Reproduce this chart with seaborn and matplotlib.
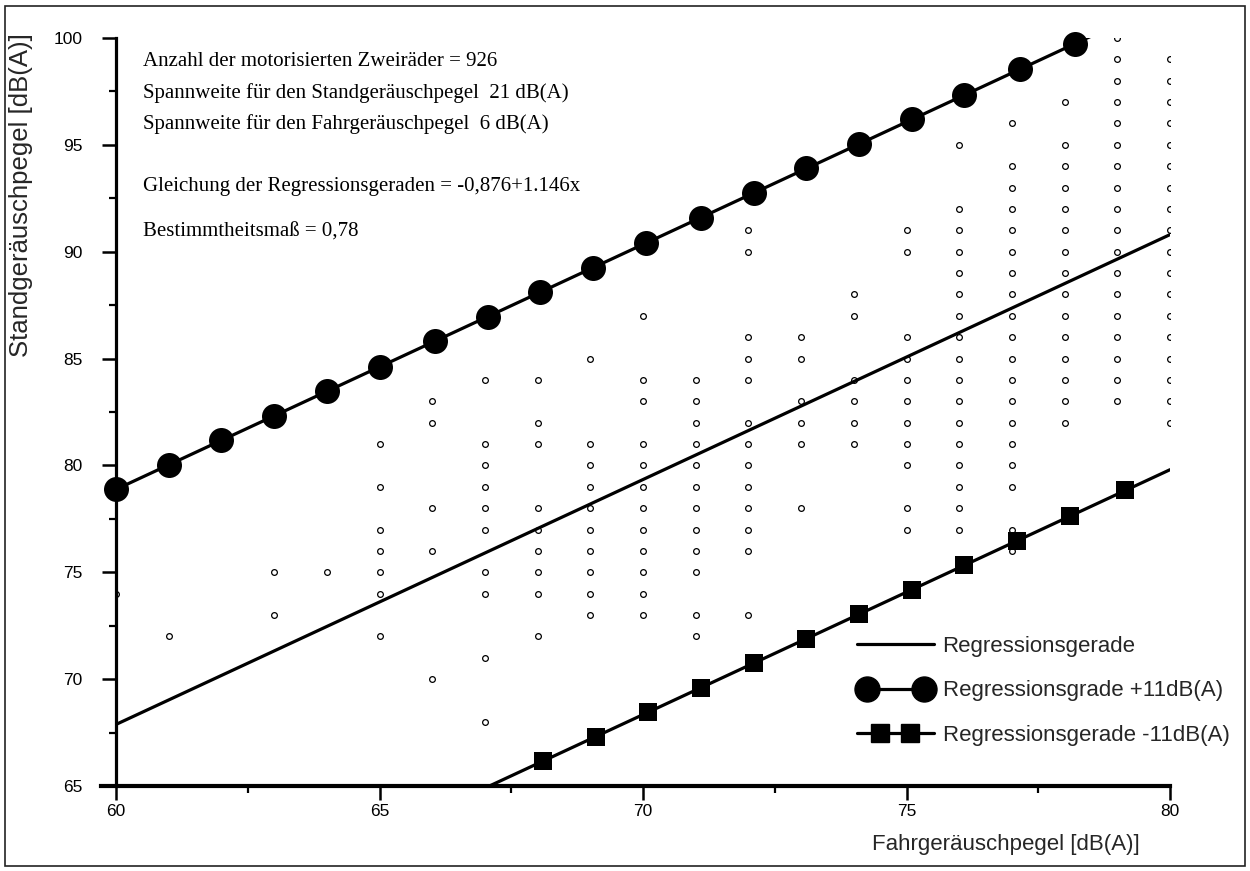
import numpy as np
import pandas as pd
import matplotlib
matplotlib.use("Agg")
import matplotlib.pyplot as plt
import seaborn as sns
from matplotlib.lines import Line2D
from matplotlib.legend_handler import HandlerLine2D
from matplotlib.patches import Rectangle
from matplotlib.ticker import MultipleLocator

# ---------------- data ----------------
scatter_x_cols = [60, 61, 63, 64, 65, 66, 67, 68, 69, 70,
                  71, 72, 73, 74, 75, 76, 77, 78, 79, 80]
scatter_y_cols = [
    [74],
    [72],
    [75, 73],
    [75],
    [81, 79, 77, 76, 75, 74, 72],
    [83, 82, 78, 76, 70],
    [84, 81, 80, 79, 78, 77, 75, 74, 71, 68],
    [84, 82, 81, 78, 77, 76, 75, 74, 72],
    [85, 81, 80, 79, 78, 77, 76, 75, 74, 73],
    [87, 84, 83, 81, 80, 79, 78, 77, 76, 75, 74, 73],
    [84, 83, 82, 81, 80, 79, 78, 77, 76, 75, 73, 72],
    [91, 90, 86, 85, 84, 82, 81, 80, 79, 78, 77, 76, 73],
    [86, 85, 83, 82, 81, 78],
    [88, 87, 84, 83, 82, 81],
    [91, 90, 86, 85, 84, 83, 82, 81, 80, 78, 77],
    [95, 92, 91, 90, 89, 88, 87, 86, 85, 84, 83, 82, 81, 80, 79, 78, 77],
    [96, 94, 93, 92, 91, 90, 89, 88, 87, 86, 85, 84, 83, 82, 81, 80, 79, 77, 76],
    [97, 95, 94, 93, 92, 91, 90, 89, 88, 87, 86, 85, 84, 83, 82],
    [100, 99, 98, 97, 96, 95, 94, 93, 92, 91, 90, 89, 88, 87, 86, 85, 84, 83],
    [99, 98, 97, 96, 95, 94, 93, 92, 91, 90, 89, 88, 87, 86, 85, 84, 83, 82],
]

reg_x = [60, 80]
reg_y = [67.88, 90.80]
upper_x = [60, 80]
upper_y = [78.88, 101.80]
lower_x = [60, 80]
lower_y = [56.88, 79.80]

circle_x = [60, 61, 62, 63, 64, 65, 66.05, 67.05, 68.05, 69.05, 70.05,
            71.1, 72.1, 73.1, 74.1, 75.1, 76.1, 77.15, 78.2]
circle_y = [78.88, 80.03, 81.18, 82.32, 83.47, 84.61, 85.82, 86.96, 88.11,
            89.26, 90.40, 91.60, 92.75, 93.90, 95.04, 96.19, 97.34, 98.54, 99.74]
square_x = [68.1, 69.1, 70.1, 71.1, 72.1, 73.1, 74.1, 75.1, 76.1, 77.1, 78.1, 79.15]
square_y = [66.17, 67.31, 68.46, 69.60, 70.75, 71.90, 73.04, 74.19, 75.34,
            76.48, 77.63, 78.83]

x_ticks = [60, 65, 70, 75, 80]
y_ticks = [65, 70, 75, 80, 85, 90, 95, 100]

info_lines = [
    "Anzahl der motorisierten Zweiräder = 926",
    "Spannweite für den Standgeräuschpegel  21 dB(A)",
    "Spannweite für den Fahrgeräuschpegel  6 dB(A)",
    "Gleichung der Regressionsgeraden = -0,876+1.146x",
    "Bestimmtheitsmaß = 0,78",
]
legend_labels = ["Regressionsgerade", "Regressionsgrade +11dB(A)",
                 "Regressionsgerade -11dB(A)"]
x_label = "Fahrgeräuschpegel [dB(A)]"
y_label = "Standgeräuschpegel [dB(A)]"

# ---------------- figure ----------------
sns.set_style("ticks")
plt.rcParams["font.family"] = ["Liberation Sans", "DejaVu Sans"]

W, H = 1250, 871
fig = plt.figure(figsize=(W / 100, H / 100), dpi=100)
ax = fig.add_axes([116 / W, 1 - 786 / H, (1170 - 116) / W, (786 - 38) / H])

rows = [(x, y) for x, ys in zip(scatter_x_cols, scatter_y_cols) for y in ys]
df = pd.DataFrame(rows, columns=["x", "y"])

sns.scatterplot(data=df, x="x", y="y", ax=ax, marker="o", s=17,
                facecolor="white", edgecolor="black", linewidth=0.9, zorder=2)

LW = 2.3
sns.lineplot(x=reg_x, y=reg_y, ax=ax, color="black", lw=LW,
             estimator=None, sort=False, zorder=3)
sns.lineplot(x=upper_x, y=upper_y, ax=ax, color="black", lw=LW,
             estimator=None, sort=False, zorder=3)
sns.lineplot(x=lower_x, y=lower_y, ax=ax, color="black", lw=LW,
             estimator=None, sort=False, zorder=3)
sns.scatterplot(x=circle_x, y=circle_y, ax=ax, marker="o", s=18 ** 2,
                color="black", edgecolor="black", linewidth=0, zorder=4,
                clip_on=False)
sns.scatterplot(x=square_x, y=square_y, ax=ax, marker="s", s=12.5 ** 2,
                color="black", edgecolor="black", linewidth=0, zorder=4,
                clip_on=False)

ax.set_xlim(60, 80)
ax.set_ylim(65, 100)
ax.set_xticks(x_ticks)
ax.set_yticks(y_ticks)
ax.xaxis.set_minor_locator(MultipleLocator(2.5))
ax.yaxis.set_minor_locator(MultipleLocator(2.5))
ax.tick_params(which="major", length=10, width=1.8, color="black",
               labelsize=12.5, labelcolor="black", direction="out")
ax.tick_params(axis="y", which="major", pad=14)
ax.tick_params(axis="x", which="major", pad=3)
ax.tick_params(which="minor", length=5, width=1.6, color="black", direction="out")
for side in ["top", "right"]:
    ax.spines[side].set_visible(False)
ax.spines["left"].set_linewidth(2.3)
ax.spines["bottom"].set_linewidth(3.0)
ax.spines["left"].set_color("black")
ax.spines["bottom"].set_color("black")
ax.spines["bottom"].set_bounds(59.72, 80)
ax.set_facecolor("white")

ax.set_xlabel(x_label, fontsize=16)
ax.set_ylabel(y_label, fontsize=18.5)
ax.xaxis.set_label_coords((1006 - 116) / 1054, (786 - 834) / 748)
ax.yaxis.set_label_coords((33 - 116) / 1054, (786 - 195) / 748)

# info text
info_y = [62, 93, 124, 186, 232]
for t, yp in zip(info_lines, info_y):
    fig.text(143 / W, 1 - yp / H, t, va="center", ha="left", fontsize=15,
             family=["Liberation Serif", "DejaVu Serif"], color="black")

# legend
h1 = Line2D([], [], color="black", lw=LW)
h2l = Line2D([], [], color="black", lw=LW)
h2m = Line2D([], [], color="black", marker="o", ms=18, ls="none")
h3l = Line2D([], [], color="black", lw=LW)
h3m = Line2D([], [], color="black", marker="s", ms=12.5, ls="none")
hmap = {
    h1: HandlerLine2D(numpoints=1),
    h2l: HandlerLine2D(numpoints=1),
    h3l: HandlerLine2D(numpoints=1),
    h2m: HandlerLine2D(numpoints=2, marker_pad=0.45),
    h3m: HandlerLine2D(numpoints=2, marker_pad=1.05),
}
ax.legend([h1, (h2l, h2m), (h3l, h3m)], legend_labels, handler_map=hmap,
          loc="upper left", bbox_to_anchor=(857 / W, 1 - 636 / H),
          bbox_transform=fig.transFigure, frameon=False, fontsize=16,
          handlelength=3.45, handletextpad=0.4, labelspacing=1.05,
          borderpad=0, borderaxespad=0)

fig.patches.append(Rectangle((5 / W, 5 / H), (W - 10) / W, (H - 11) / H,
                             transform=fig.transFigure, fill=False,
                             edgecolor="#222222", lw=1.2))

fig.savefig("out.png", dpi=100, facecolor="white")
